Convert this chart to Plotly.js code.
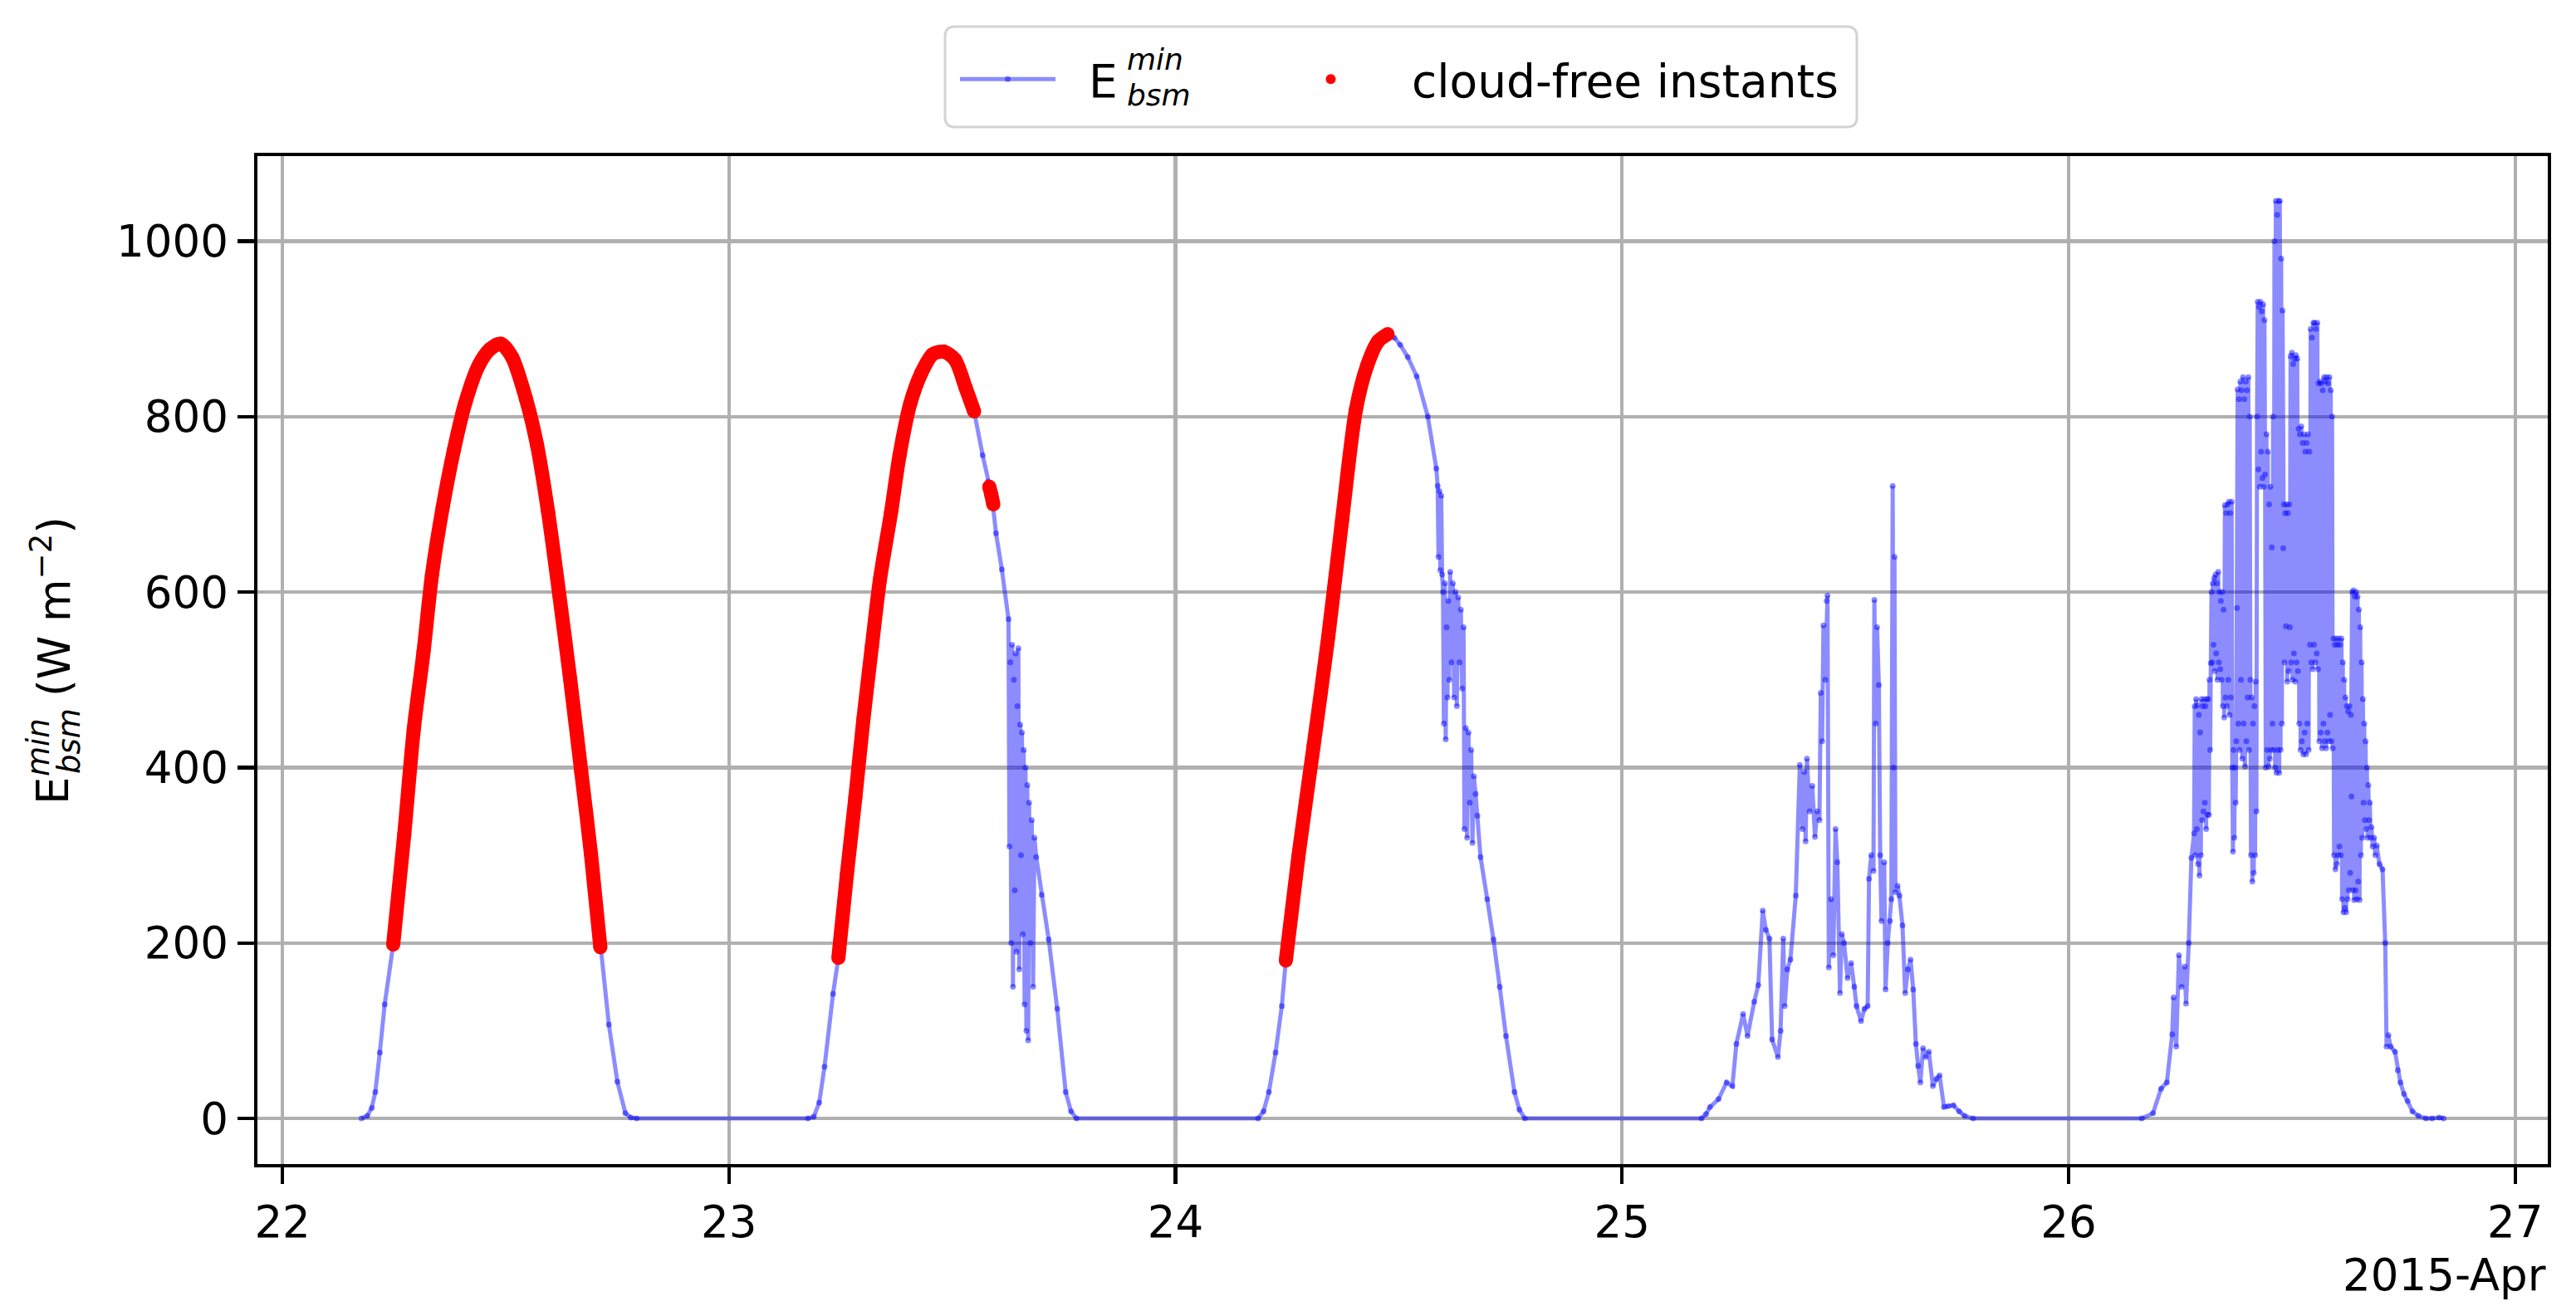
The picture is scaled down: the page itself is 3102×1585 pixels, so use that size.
<!DOCTYPE html>
<html>
<head>
<meta charset="utf-8">
<script src="https://cdn.plot.ly/plotly-3.0.1.min.js"></script>
<style>
  html, body { margin: 0; padding: 0; background: #ffffff; }
  #chart { width: 3102px; height: 1585px; }
</style>
</head>
<body>
<div id="chart"></div>
<script>
// ---- data: [decimal day of April 2015, E_bsm^min in W m^-2] ----
const apr22 = [
  [22.177,0],[22.190,3],[22.200,12],[22.208,30],[22.218,75],[22.229,130],[22.248,198],[22.273,325],[22.294,443],
  [22.316,532],[22.335,620],[22.359,697],[22.384,762],[22.409,815],[22.440,859],[22.465,877],[22.489,883],
  [22.514,868],[22.545,821],[22.570,768],[22.595,691],[22.620,597],[22.644,502],[22.669,396],[22.691,301],
  [22.712,195],[22.731,107],[22.750,42],[22.768,6],[22.780,1],[22.793,0]
];
const apr23 = [
  [23.177,0],[23.190,2],[23.202,18],[23.214,59],[23.233,142],[23.245,183],[23.264,278],[23.283,366],[23.301,455],
  [23.320,538],[23.338,614],[23.363,691],[23.382,756],[23.406,815],[23.431,850],[23.456,871],[23.481,874],
  [23.506,865],[23.530,833],[23.549,806],[23.568,756],[23.580,726],[23.589,709],[23.598,667],[23.611,626],[23.626,569],
  [23.628,310],[23.630,520],[23.632,200],[23.634,540],[23.636,150],[23.638,500],[23.640,260],[23.642,530],[23.644,190],
  [23.646,470],[23.648,536],[23.650,170],[23.652,449],[23.654,300],[23.656,440],[23.658,210],[23.660,420],[23.662,130],
  [23.664,400],[23.666,100],[23.668,380],[23.670,89],[23.672,360],[23.675,200],[23.678,340],[23.681,150],[23.684,320],
  [23.688,298],[23.700,255],[23.716,204],[23.735,125],[23.754,30],[23.766,8],[23.778,0]
];
const apr24 = [
  [24.185,0],[24.197,8],[24.209,30],[24.224,75],[24.238,128],[24.247,180],[24.275,298],[24.309,424],[24.342,549],
  [24.373,682],[24.404,808],[24.429,858],[24.454,886],[24.475,894],[24.490,890],[24.503,882],[24.520,868],[24.540,846],
  [24.565,800],[24.584,741],[24.587,721],[24.589,640],[24.591,715],[24.593,625],[24.595,710],[24.597,620],[24.599,600],
  [24.601,450],[24.603,610],[24.605,432],[24.607,560],[24.609,480],[24.611,590],[24.613,500],[24.615,623],[24.618,520],
  [24.621,610],[24.624,480],[24.627,600],[24.630,470],[24.633,594],[24.636,520],[24.639,580],[24.642,490],[24.645,560],
  [24.647,330],[24.650,445],[24.653,320],[24.656,440],[24.659,360],[24.662,420],[24.665,314],[24.668,390],[24.672,370],
  [24.676,345],[24.683,298],[24.698,250],[24.712,204],[24.726,150],[24.740,94],[24.759,30],[24.770,10],[24.782,0]
];
const apr25 = [
  [25.178,0],[25.188,5],[25.197,13],[25.216,22],[25.234,41],[25.247,37],[25.256,85],[25.271,119],[25.281,94],
  [25.296,133],[25.305,152],[25.315,237],[25.322,215],[25.330,205],[25.336,90],[25.349,70],[25.355,100],[25.361,205],
  [25.364,128],[25.370,170],[25.377,181],[25.389,254],[25.398,403],[25.404,330],[25.408,395],[25.411,316],[25.414,410],
  [25.420,350],[25.426,379],[25.432,321],[25.437,350],[25.442,340],[25.445,485],[25.448,430],[25.451,562],[25.455,500],
  [25.458,590],[25.460,596],[25.463,172],[25.468,250],[25.473,186],[25.478,330],[25.482,292],[25.488,143],[25.492,210],
  [25.497,200],[25.505,160],[25.513,177],[25.520,150],[25.525,128],[25.535,111],[25.543,125],[25.550,128],[25.553,273],
  [25.558,300],[25.563,282],[25.565,591],[25.568,450],[25.571,560],[25.575,494],[25.578,300],[25.581,225],[25.587,292],
  [25.590,147],[25.595,200],[25.600,225],[25.603,250],[25.606,721],[25.608,400],[25.610,640],[25.612,258],[25.617,265],
  [25.621,254],[25.628,220],[25.634,143],[25.640,170],[25.646,181],[25.652,147],[25.658,85],[25.663,60],[25.668,41],
  [25.674,80],[25.680,70],[25.687,76],[25.696,37],[25.704,45],[25.711,49],[25.721,13],[25.730,14],[25.742,15],
  [25.755,8],[25.767,3],[25.786,0]
];
const apr26 = [
  [26.164,0],[26.189,6],[26.207,34],[26.220,41],[26.232,96],[26.235,138],[26.241,82],[26.247,186],[26.253,150],
  [26.260,173],[26.263,131],[26.269,200],[26.275,297],[26.281,325],
  [26.2825,470],[26.284,300],[26.2855,478],[26.287,330],[26.2885,471],[26.290,290],[26.2915,460],[26.293,277],
  [26.2945,440],[26.296,300],[26.2975,478],[26.299,340],[26.3005,470],[26.302,350],[26.3035,478],[26.305,360],
  [26.3065,470],[26.308,330],[26.3095,478],[26.311,346],[26.3125,478],[26.314,346],[26.3155,500],[26.317,420],
  [26.3185,519],[26.320,600],[26.3215,520],[26.323,610],[26.3245,540],[26.326,616],[26.3275,510],[26.329,620],
  [26.3305,530],[26.332,610],[26.3335,500],[26.335,623],[26.3365,520],[26.338,600],[26.3395,512],[26.341,590],
  [26.3425,500],[26.344,600],[26.3455,470],[26.347,580],[26.3485,457],
  [26.350,699],[26.3515,480],[26.353,690],[26.3545,470],[26.356,700],[26.3575,500],[26.359,703],[26.3605,460],
  [26.362,690],[26.3635,480],[26.365,703],
  [26.3665,400],[26.368,304],[26.3695,420],[26.371,320],[26.3725,400],[26.374,360],[26.3755,430],
  [26.377,582],[26.3785,831],[26.380,450],[26.3815,820],[26.383,420],[26.3845,840],[26.386,500],[26.3875,830],
  [26.389,410],[26.3905,845],[26.392,450],[26.3935,820],[26.395,401],[26.3965,840],[26.398,430],[26.3995,830],
  [26.401,480],[26.4025,845],[26.404,420],[26.4055,800],
  [26.407,500],[26.4085,300],[26.410,480],[26.4115,270],[26.413,450],[26.4145,280],[26.416,470],[26.4175,300],
  [26.419,498],[26.4205,350],
  [26.422,800],[26.4235,931],[26.425,740],[26.4265,925],[26.428,720],[26.4295,931],[26.431,760],[26.4325,920],
  [26.434,730],[26.4355,928],[26.437,720],[26.4385,910],
  [26.440,734],[26.4415,400],[26.443,780],[26.4445,420],[26.446,760],[26.4475,401],[26.449,700],[26.4505,410],
  [26.452,720],[26.4535,420],[26.455,651],
  [26.4565,450],[26.458,800],[26.4595,420],[26.461,1000],[26.4625,400],[26.464,1046],[26.4655,394],[26.467,1030],
  [26.4685,420],[26.470,1046],[26.4715,394],[26.473,1046],[26.4745,420],[26.476,980],[26.4775,450],[26.479,921],
  [26.4805,650],[26.482,700],[26.4835,520],[26.485,690],[26.4865,561],[26.488,700],[26.4895,498],[26.491,690],
  [26.4925,510],[26.494,700],
  [26.4955,560],[26.497,869],[26.4985,520],[26.500,873],[26.5015,500],[26.503,860],[26.5045,530],[26.506,866],
  [26.5075,498],[26.509,870],[26.5105,520],[26.512,866],[26.5135,510],
  [26.515,786],[26.5165,450],[26.518,780],[26.5195,420],[26.521,789],[26.5225,430],[26.524,770],[26.5255,415],
  [26.527,780],[26.5285,440],[26.530,760],[26.5315,415],[26.533,770],[26.5345,450],[26.536,780],[26.5375,420],
  [26.539,760],
  [26.5405,540],[26.542,900],[26.5435,520],[26.545,890],[26.5465,512],[26.548,907],[26.5495,540],[26.551,907],
  [26.5525,520],[26.554,900],[26.5555,530],[26.557,907],[26.5585,512],[26.560,838],
  [26.5615,430],[26.563,840],[26.5645,440],[26.566,838],[26.5675,422],[26.569,830],[26.5705,450],[26.572,845],
  [26.5735,430],[26.575,840],[26.5765,422],[26.578,845],[26.5795,440],[26.581,838],[26.5825,430],[26.584,845],
  [26.5855,460],[26.587,830],[26.5885,430],[26.590,800],
  [26.5915,422],[26.593,547],[26.5945,300],[26.596,540],[26.5975,284],[26.599,547],[26.6005,290],[26.602,540],
  [26.6035,300],[26.605,547],[26.6065,310],[26.608,540],
  [26.6095,300],[26.611,547],[26.6125,250],[26.614,520],[26.6155,235],[26.617,500],[26.6185,240],[26.620,480],
  [26.6215,235],[26.623,470],[26.6245,250],[26.626,464],[26.6275,260],[26.629,470],[26.6305,280],[26.632,460],
  [26.6335,367],[26.635,600],[26.6365,260],[26.638,602],[26.6395,249],[26.641,595],[26.6425,260],[26.644,600],
  [26.6455,250],[26.647,595],[26.6485,270],[26.650,580],[26.6515,249],[26.653,560],[26.6545,300],[26.656,520],
  [26.6575,320],[26.659,478],
  [26.6605,360],[26.662,450],[26.6635,340],[26.665,430],[26.6665,330],[26.668,400],[26.6695,320],[26.671,380],
  [26.673,340],[26.6745,360],[26.676,320],[26.678,332],[26.681,310],[26.684,320],[26.687,300],[26.690,311],
  [26.696,290],[26.703,284],[26.709,200],[26.712,82],[26.716,95],[26.721,82],[26.731,76],[26.737,55],[26.743,41],
  [26.751,28],[26.759,20],[26.770,8],[26.783,3],[26.800,0],[26.814,0],[26.830,1],[26.840,0]
];
// cloud-free instants (null rows = gaps between clear spells)
const clearSky = [
  [22.248,198],[22.273,325],[22.294,443],[22.316,532],[22.335,620],[22.359,697],[22.384,762],[22.409,815],
  [22.440,859],[22.465,877],[22.489,883],[22.514,868],[22.545,821],[22.570,768],[22.595,691],[22.620,597],
  [22.644,502],[22.669,396],[22.691,301],[22.712,195],[null,null],
  [23.245,183],[23.264,278],[23.283,366],[23.301,455],[23.320,538],[23.338,614],[23.363,691],[23.382,756],
  [23.406,815],[23.431,850],[23.456,871],[23.481,874],[23.506,865],[23.530,833],[23.549,806],[null,null],
  [23.583,720],[23.587,712],[23.592,700],[null,null],
  [24.247,180],[24.275,298],[24.309,424],[24.342,549],[24.373,682],[24.404,808],[24.429,858],[24.454,886],[24.475,894]
];
const yTicks = [0, 200, 400, 600, 800, 1000];
const xRangeDays = [21.944, 27.073];
const offsetLabel = '2015-Apr';

// ---- helpers ----
const BASE = Date.UTC(2015, 2, 31); // 31 Mar 2015 00:00 -> day-of-April 0
function toDate(d) {
  if (d === null) return null;
  return new Date(BASE + d * 86400000).toISOString().replace('T', ' ').replace('Z', '');
}
const series = [].concat(apr22, apr23, apr24, apr25, apr26);

const W = 3102, H = 1585;
const M = {l: 310, r: 34, t: 188, b: 183};
const PW = W - M.l - M.r, PH = H - M.t - M.b;
const px = x => (x - M.l) / PW;       // pixel -> paper x
const py = y => (H - M.b - y) / PH;   // pixel -> paper y

function roundedBox(x0, y0, x1, y1, r) {
  const P = (x, y) => px(x).toFixed(6) + ',' + py(y).toFixed(6);
  return 'M' + P(x0 + r, y0) + ' L' + P(x1 - r, y0) + ' Q' + P(x1, y0) + ' ' + P(x1, y0 + r) +
         ' L' + P(x1, y1 - r) + ' Q' + P(x1, y1) + ' ' + P(x1 - r, y1) +
         ' L' + P(x0 + r, y1) + ' Q' + P(x0, y1) + ' ' + P(x0, y1 - r) +
         ' L' + P(x0, y0 + r) + ' Q' + P(x0, y0) + ' ' + P(x0 + r, y0) + ' Z';
}

const FONT = 'DejaVu Sans, Liberation Sans, sans-serif';
const NB = '\u00a0';

const traces = [
  {
    type: 'scatter', mode: 'lines+markers',
    x: series.map(p => toDate(p[0])), y: series.map(p => p[1]),
    name: NB + NB + 'E',
    legend: 'legend',
    line: {color: 'rgba(0,0,255,0.45)', width: 5},
    marker: {color: 'rgba(0,0,255,0.45)', size: 7}
  },
  {
    type: 'scatter', mode: 'lines+markers',
    x: clearSky.map(p => toDate(p[0])), y: clearSky.map(p => p[1]),
    connectgaps: false,
    line: {color: '#ff0000', width: 17, shape: 'spline', smoothing: 0.8},
    marker: {color: '#ff0000', size: 17},
    showlegend: false,
    name: 'cloud-free instants'
  },
  {
    type: 'scatter', mode: 'markers',
    x: [null], y: [null],
    marker: {color: '#ff0000', size: 12},
    name: NB + NB + 'cloud-free instants',
    legend: 'legend2'
  }
];

const axisCommon = {
  showline: true, linecolor: '#000000', linewidth: 4.4, mirror: true,
  ticks: 'outside', ticklen: 20, tickwidth: 4.4, tickcolor: '#000000',
  showgrid: true, gridcolor: '#b0b0b0', gridwidth: 4.4,
  zeroline: false,
  tickfont: {family: FONT, size: 53, color: '#000000'}
};

const legendCommon = {
  orientation: 'h', yanchor: 'top', xanchor: 'left',
  bgcolor: 'rgba(0,0,0,0)', borderwidth: 0,
  font: {family: FONT, size: 55, color: '#000000'},
  itemwidth: 115
};

const layout = {
  width: W, height: H,
  margin: M,
  paper_bgcolor: '#ffffff', plot_bgcolor: '#ffffff',
  font: {family: FONT, size: 53, color: '#000000'},
  showlegend: true,
  xaxis: Object.assign({}, axisCommon, {
    type: 'date',
    range: xRangeDays.map(toDate),
    tick0: toDate(22), dtick: 86400000,
    tickformat: '%-d'
  }),
  yaxis: Object.assign({}, axisCommon, {
    range: [-52, 1097],
    tickmode: 'array', tickvals: yTicks, ticktext: yTicks.map(String)
  }),
  legend: Object.assign({}, legendCommon, {x: px(1151), y: py(53)}),
  legend2: Object.assign({}, legendCommon, {x: px(1540), y: py(53)}),
  shapes: [
    {type: 'path', xref: 'paper', yref: 'paper', path: roundedBox(1138, 32, 2236, 153, 12),
     fillcolor: '#ffffff', line: {color: '#d3d3d3', width: 3}, layer: 'above'}
  ],
  annotations: [
    // y-axis title  E^{min}_{bsm} (W m^-2)
    {xref: 'paper', yref: 'paper', x: px(63), y: py(952), text: 'E', textangle: -90,
     showarrow: false, xanchor: 'center', yanchor: 'middle', font: {family: FONT, size: 53}},
    {xref: 'paper', yref: 'paper', x: px(46), y: py(900), text: '<i>min</i>', textangle: -90,
     showarrow: false, xanchor: 'center', yanchor: 'middle', font: {family: FONT, size: 37}},
    {xref: 'paper', yref: 'paper', x: px(84), y: py(893), text: '<i>bsm</i>', textangle: -90,
     showarrow: false, xanchor: 'center', yanchor: 'middle', font: {family: FONT, size: 37}},
    {xref: 'paper', yref: 'paper', x: px(62), y: py(731), text: '(W m<sup>\u22122</sup>)', textangle: -90,
     showarrow: false, xanchor: 'center', yanchor: 'middle', font: {family: FONT, size: 53}},
    // legend label super/subscripts (stacked, boxes touching but not overlapping)
    {xref: 'paper', yref: 'paper', x: px(1356), y: py(93), text: '<i>min</i>',
     showarrow: false, xanchor: 'left', yanchor: 'bottom', borderpad: 0, font: {family: FONT, size: 36}},
    {xref: 'paper', yref: 'paper', x: px(1356), y: py(93), text: '<i>bsm</i>',
     showarrow: false, xanchor: 'left', yanchor: 'top', borderpad: 0, font: {family: FONT, size: 36}},
    // date offset label
    {xref: 'paper', yref: 'paper', x: 1, y: py(1535), text: offsetLabel,
     showarrow: false, xanchor: 'right', yanchor: 'middle', font: {family: FONT, size: 53}}
  ]
};

Plotly.newPlot('chart', traces, layout, {displayModeBar: false, staticPlot: true});
</script>
</body>
</html>
